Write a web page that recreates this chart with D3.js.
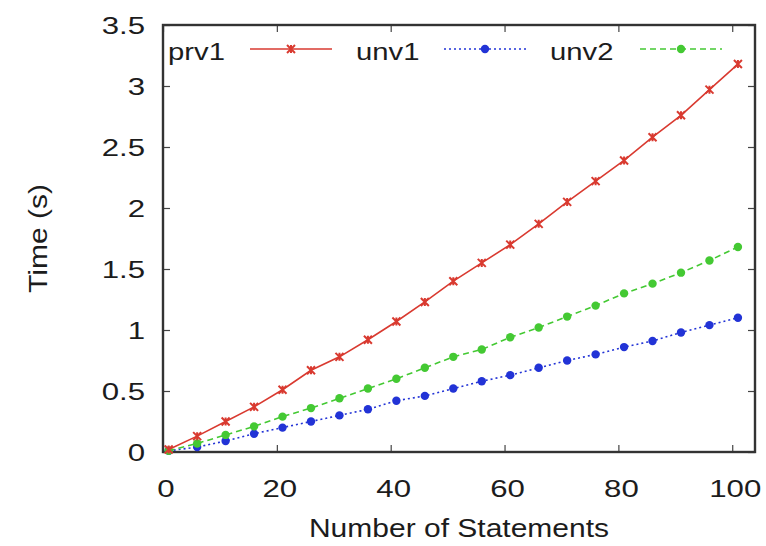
<!DOCTYPE html>
<html>
<head>
<meta charset="utf-8">
<script src="https://cdn.jsdelivr.net/npm/d3@7"></script>
<style>
  body { margin: 0; background: #fff; }
  text { font-family: "Liberation Sans", Arial, sans-serif; fill: #1c1c1c; }
</style>
</head>
<body>
<div id="chart"></div>
<script>
// data
const statements = [1, 6, 11, 16, 21, 26, 31, 36, 41, 46, 51, 56, 61, 66, 71, 76, 81, 86, 91, 96, 101];
const prv1 = [0.02, 0.13, 0.25, 0.37, 0.51, 0.67, 0.78, 0.92, 1.07, 1.23, 1.40, 1.55, 1.70, 1.87, 2.05, 2.22, 2.39, 2.58, 2.76, 2.97, 3.18];
const unv1 = [0.01, 0.04, 0.09, 0.15, 0.20, 0.25, 0.30, 0.35, 0.42, 0.46, 0.52, 0.58, 0.63, 0.69, 0.75, 0.80, 0.86, 0.91, 0.98, 1.04, 1.10];
const unv2 = [0.01, 0.07, 0.14, 0.21, 0.29, 0.36, 0.44, 0.52, 0.60, 0.69, 0.78, 0.84, 0.94, 1.02, 1.11, 1.20, 1.30, 1.38, 1.47, 1.57, 1.68];
const xTicks = [0, 20, 40, 60, 80, 100];
const yTicks = [0, 0.5, 1, 1.5, 2, 2.5, 3, 3.5];

const series = [
    {name: "prv1", values: prv1, color: "#d93a30", dash: null, marker: "star"},
    {name: "unv1", values: unv1, color: "#2233d6", dash: "2,3", marker: "dot"},
    {name: "unv2", values: unv2, color: "#44c933", dash: "6,4", marker: "dot"}
];

const width = 766, height = 546;
const margin = {top: 25, right: 11, bottom: 94, left: 163};

const svg = d3.select("#chart").append("svg")
    .attr("width", width)
    .attr("height", height);

const x = d3.scaleLinear().domain([0, 104]).range([margin.left, width - margin.right]);
const y = d3.scaleLinear().domain([0, 3.5]).range([height - margin.bottom, margin.top]);

// the picture's lettering is wide, so stretch text sideways
function stretchText(px, py, str, size, sx, anchor, rot = 0) {
    return svg.append("text")
        .attr("transform", `translate(${px},${py}) rotate(${rot}) scale(${sx},1)`)
        .attr("text-anchor", anchor)
        .style("font-size", size + "px")
        .text(str);
}

// mirrored inward ticks like gnuplot
const tickLen = 7;
svg.append("g")
    .attr("transform", `translate(0,${y(0)})`)
    .call(d3.axisBottom(x).tickValues(xTicks).tickSize(-tickLen).tickFormat(""));
svg.append("g")
    .attr("transform", `translate(0,${y(3.5)})`)
    .call(d3.axisTop(x).tickValues(xTicks).tickSize(-tickLen).tickFormat(""));
svg.append("g")
    .attr("transform", `translate(${x(0)},0)`)
    .call(d3.axisLeft(y).tickValues(yTicks).tickSize(-tickLen).tickFormat(""));
svg.append("g")
    .attr("transform", `translate(${x(104)},0)`)
    .call(d3.axisRight(y).tickValues(yTicks).tickSize(-tickLen).tickFormat(""));

svg.selectAll(".domain").remove();
svg.selectAll(".tick line").attr("stroke", "#444").attr("stroke-width", 1.2);

xTicks.forEach(t => stretchText(x(t) + 3, 497, t, 24, 1.3, "middle"));
yTicks.forEach(t => stretchText(145, y(t) + 8.5, t, 24, 1.3, "end"));

// frame
svg.append("rect")
    .attr("x", x(0))
    .attr("y", y(3.5))
    .attr("width", x(104) - x(0))
    .attr("height", y(0) - y(3.5))
    .attr("fill", "none")
    .attr("stroke", "#333")
    .attr("stroke-width", 2.4);

// axis titles
stretchText((x(0) + x(104)) / 2, 537, "Number of Statements", 25, 1.2, "middle");
stretchText(47, (y(0) + y(3.5)) / 2, "Time (s)", 25, 1.2, "middle", -90);

const line = d3.line()
    .x((d, i) => x(statements[i]))
    .y(d => y(d));

function drawMarker(g, s, cx, cy) {
    if (s.marker === "star") {
        const r = 4;
        g.append("path")
            .attr("d", `M${cx - r},${cy - r}L${cx + r},${cy + r}M${cx - r},${cy + r}L${cx + r},${cy - r}M${cx},${cy - r}L${cx},${cy + r}`)
            .attr("stroke", s.color)
            .attr("stroke-width", 2);
    } else {
        g.append("circle")
            .attr("cx", cx).attr("cy", cy).attr("r", 4.2)
            .attr("fill", s.color);
    }
}

// series, drawn back to front
[series[1], series[2], series[0]].forEach(s => {
    const g = svg.append("g");
    g.append("path")
        .datum(s.values)
        .attr("d", line)
        .attr("fill", "none")
        .attr("stroke", s.color)
        .attr("stroke-width", 1.6)
        .attr("stroke-dasharray", s.dash);
    s.values.forEach((v, i) => drawMarker(g, s, x(statements[i]), y(v)));
});

// legend inside the top of the frame
const legendY = 49;
const legendItems = [
    {s: series[0], tx: 168, l0: 250, l1: 332},
    {s: series[1], tx: 356, l0: 444, l1: 526},
    {s: series[2], tx: 550, l0: 640, l1: 722}
];
legendItems.forEach(d => {
    stretchText(d.tx, legendY + 11, d.s.name, 24, 1.22, "start");
    svg.append("line")
        .attr("x1", d.l0).attr("x2", d.l1)
        .attr("y1", legendY).attr("y2", legendY)
        .attr("stroke", d.s.color)
        .attr("stroke-width", 1.6)
        .attr("stroke-dasharray", d.s.dash);
    drawMarker(svg, d.s, (d.l0 + d.l1) / 2, legendY);
});
</script>
</body>
</html>
